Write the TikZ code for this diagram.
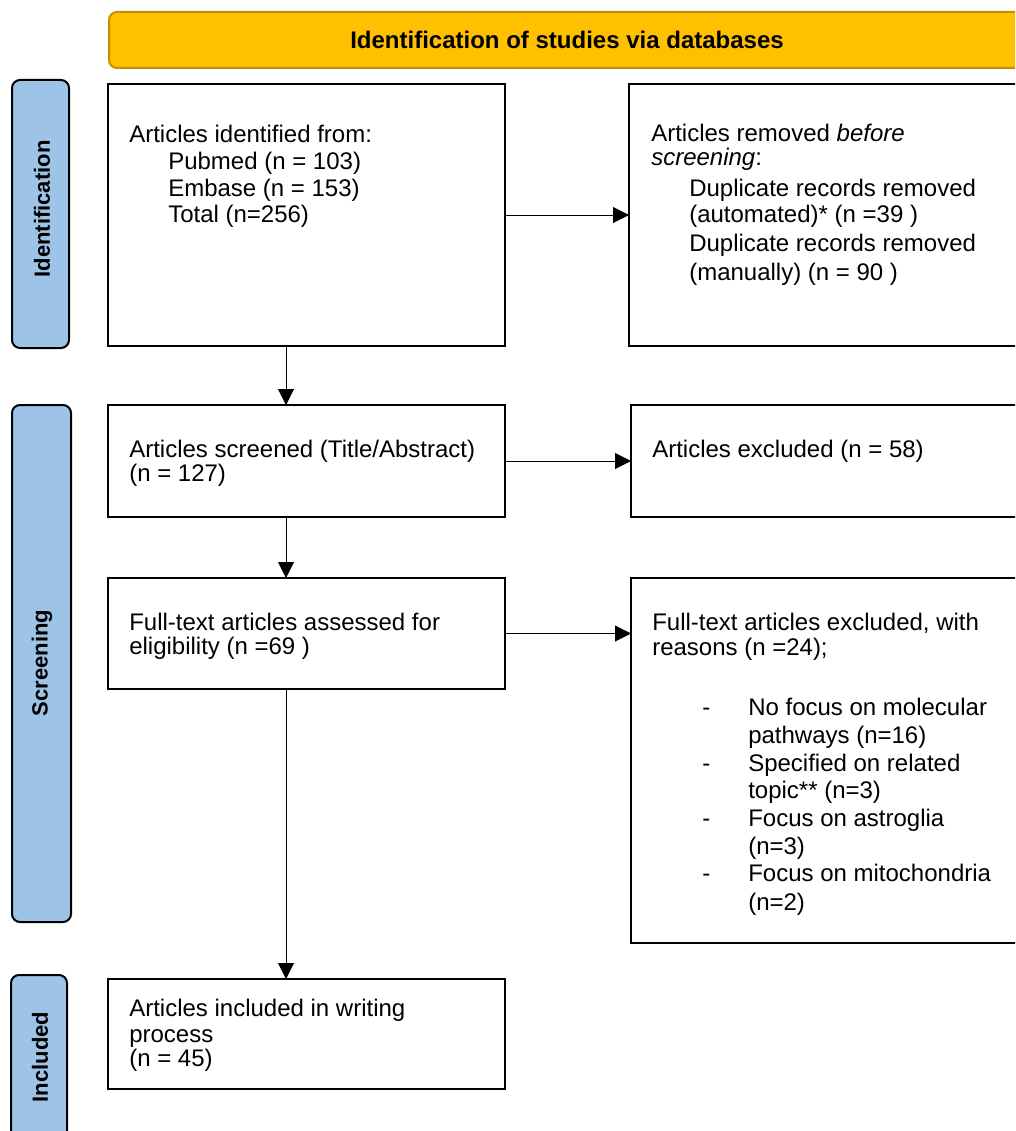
\documentclass[tikz,border=0pt]{standalone}
\usepackage{fontspec}
\setmainfont{Liberation Sans}
\usetikzlibrary{arrows.meta,fit}
\definecolor{barblue}{HTML}{9DC3E6}
\definecolor{goldfill}{HTML}{FFC000}
\definecolor{golddark}{HTML}{BF9000}
\begin{document}
\begin{tikzpicture}[x=0.75pt,y=-0.75pt,
  box/.style={draw=black,line width=1.5pt,inner sep=0pt,outer sep=0pt},
  sidebar/.style={draw=black,line width=1.5pt,fill=barblue,rounded corners=6pt,inner sep=0pt,outer sep=0pt},
  banner/.style={draw=golddark,line width=1.5pt,fill=goldfill,rounded corners=6pt,inner sep=0pt,outer sep=0pt},
  sidelbl/.style={rotate=90,inner sep=0pt,font=\fontsize{16.5}{19}\selectfont\bfseries},
  bantxt/.style={inner sep=0pt,anchor=base,font=\fontsize{18}{21}\selectfont\bfseries},
  txt/.style={anchor=base west,inner sep=0pt,font=\fontsize{18}{21}\selectfont},
  arr/.style={line width=0.75pt,-{Triangle[length=12pt,width=12pt]}}]
\path[use as bounding box] (0,0) rectangle (1015,1131);
\clip (0,0) rectangle (1015,1131);

% banner
\node[banner,fit={(109,12)(1040,68)}] (ban) {};
\node[bantxt] (bantext) at (567,49) {Identification of studies via databases};

% side bars
\node[sidebar,fit={(12,80)(69,348)}] (idbar) {};
\node[sidelbl] (idlbl) at (42,209) {Identification};
\node[sidebar,fit={(12,405)(71,922)}] (scbar) {};
\node[sidelbl] (sclbl) at (42,663) {Screening};
\node[sidebar,fit={(11,975)(67,1160)}] (inbar) {};
\node[sidelbl] (inlbl) at (40,1057) {Included};

% boxes
\node[box,fit={(108,84)(505,346)}] (b1) {};
\node[box,fit={(629,84)(1040,346)}] (b2) {};
\node[box,fit={(108,405)(505,517)}] (b3) {};
\node[box,fit={(631,405)(1040,517)}] (b4) {};
\node[box,fit={(108,578)(505,689)}] (b5) {};
\node[box,fit={(631,578)(1040,943)}] (b6) {};
\node[box,fit={(108,979)(505,1089)}] (b7) {};

% box 1 text
\node[txt] (t11) at (129,142) {Articles identified from:};
\node[txt] (t12) at (168,169) {Pubmed (n = 103)};
\node[txt] (t13) at (168,196) {Embase (n = 153)};
\node[txt] (t14) at (168,222) {Total (n=256)};

% box 2 text
\node[txt] (t21) at (651,141) {Articles removed \textit{before}};
\node[txt] (t22) at (651,165) {\textit{screening}:};
\node[txt] (t23) at (689,196) {Duplicate records removed};
\node[txt] (t24) at (689,222) {(automated)* (n =39 )};
\node[txt] (t25) at (689,251) {Duplicate records removed};
\node[txt] (t26) at (689,280) {(manually) (n = 90 )};

% box 3 / 4
\node[txt] (t31) at (129,457) {Articles screened (Title/Abstract)};
\node[txt] (t32) at (129,481) {(n = 127)};
\node[txt] (t41) at (652,457) {Articles excluded (n = 58)};

% box 5
\node[txt] (t51) at (129,630) {Full-text articles assessed for};
\node[txt] (t52) at (129,654) {eligibility (n =69 )};

% box 6
\node[txt] (t61) at (652,630) {Full-text articles excluded, with};
\node[txt] (t62) at (652,655) {reasons (n =24);};
\node[txt] (d1) at (702,715) {-};
\node[txt] (t63) at (748,715) {No focus on molecular};
\node[txt] (t64) at (748,743) {pathways (n=16)};
\node[txt] (d2) at (702,771) {-};
\node[txt] (t65) at (748,771) {Specified on related};
\node[txt] (t66) at (748,798) {topic** (n=3)};
\node[txt] (d3) at (702,826) {-};
\node[txt] (t67) at (748,826) {Focus on astroglia};
\node[txt] (t68) at (748,854) {(n=3)};
\node[txt] (d4) at (702,881) {-};
\node[txt] (t69) at (748,881) {Focus on mitochondria};
\node[txt] (t610) at (748,910) {(n=2)};

% box 7
\node[txt] (t71) at (129,1016) {Articles included in writing};
\node[txt] (t72) at (129,1042) {process};
\node[txt] (t73) at (129,1066) {(n = 45)};

% arrows
\coordinate (vx) at (286,0);
\draw[arr] (b1.east) -- (b1.east -| b2.west);
\draw[arr] (b3.east) -- (b3.east -| b4.west);
\draw[arr] (b5.east) -- (b5.east -| b6.west);
\draw[arr] (b1.south -| vx) -- (b3.north -| vx);
\draw[arr] (b3.south -| vx) -- (b5.north -| vx);
\draw[arr] (b5.south -| vx) -- (b7.north -| vx);
\end{tikzpicture}
\end{document}
